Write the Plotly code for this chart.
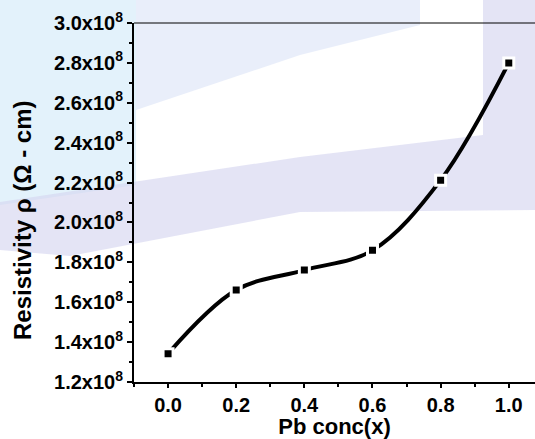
import plotly.graph_objects as go

pb_conc = [0.0, 0.2, 0.4, 0.6, 0.8, 1.0]
resistivity = [1.342e8, 1.661e8, 1.761e8, 1.860e8, 2.212e8, 2.800e8]

y_tick_vals = [1.2e8, 1.4e8, 1.6e8, 1.8e8, 2.0e8, 2.2e8, 2.4e8, 2.6e8, 2.8e8, 3.0e8]
y_tick_text = ["1.2x10<sup>8</sup>", "1.4x10<sup>8</sup>", "1.6x10<sup>8</sup>", "1.8x10<sup>8</sup>",
               "2.0x10<sup>8</sup>", "2.2x10<sup>8</sup>", "2.4x10<sup>8</sup>", "2.6x10<sup>8</sup>",
               "2.8x10<sup>8</sup>", "3.0x10<sup>8</sup>"]
x_tick_vals = [0.0, 0.2, 0.4, 0.6, 0.8, 1.0]
x_tick_text = ["0.0", "0.2", "0.4", "0.6", "0.8", "1.0"]
y_title = "Resistivity ρ (Ω - cm)"
x_title = "Pb conc(x)"

W, H = 535, 439
ML, MR, MT, MB = 134, 0, 23, 57
PW, PH = W - ML - MR, H - MT - MB


def px_path(points):
    """Convert pixel-space polygon (background watermark) to a paper-space SVG path."""
    pts = [((x - ML) / PW, (H - MB - y) / PH) for x, y in points]
    return "M " + " L ".join(f"{a:.4f},{b:.4f}" for a, b in pts) + " Z"


watermark = [
    ([(0, 0), (136, 0), (136, 185), (0, 205)], "rgba(200,230,248,0.5)"),
    ([(136, 0), (420, 0), (420, 25), (300, 55), (136, 110)], "rgba(212,222,245,0.5)"),
    ([(0, 202), (300, 157), (483, 135), (483, 0), (535, 0), (535, 210), (300, 212),
      (70, 256), (0, 250)], "rgba(214,214,240,0.65)"),
]

shapes = [dict(type="path", xref="paper", yref="paper", path=px_path(p), fillcolor=c,
               line=dict(width=0), layer="below") for p, c in watermark]
shapes.append(dict(type="line", xref="paper", yref="paper", x0=0, x1=1, y0=1, y1=1,
                   line=dict(color="black", width=1)))

fig = go.Figure()
fig.add_trace(go.Scatter(
    x=pb_conc, y=resistivity, mode="lines",
    line=dict(shape="spline", smoothing=1.0, color="black", width=4),
    hoverinfo="skip", showlegend=False))
fig.add_trace(go.Scatter(
    x=pb_conc, y=resistivity, mode="markers",
    marker=dict(symbol="square", size=10, color="black", line=dict(color="white", width=3)),
    showlegend=False))

fam = "Liberation Sans, Arial, sans-serif"
tickfont = dict(size=20, family=fam, color="black")
titlefont = dict(size=22, family=fam, color="black")

fig.update_layout(
    width=W, height=H,
    margin=dict(l=ML, r=MR, t=MT, b=MB),
    paper_bgcolor="white", plot_bgcolor="rgba(0,0,0,0)",
    xaxis=dict(range=[-0.1, 1.077], tickvals=x_tick_vals,
               ticktext=[f"<b>{t}</b>" for t in x_tick_text],
               showgrid=False, zeroline=False, showline=True, linecolor="black", linewidth=2,
               ticks="outside", ticklen=4, tickwidth=1.5, tickcolor="black", tickfont=tickfont,
               minor=dict(dtick=0.1, tick0=0, ticks="outside", ticklen=3, tickwidth=1.5, tickcolor="black"),
               title=dict(text=f"<b>{x_title}</b>", font=titlefont, standoff=3), automargin=False),
    yaxis=dict(range=[1.2e8, 3.0e8], tickvals=y_tick_vals,
               ticktext=[f"<b>{t}</b>" for t in y_tick_text],
               showgrid=False, zeroline=False, showline=True, linecolor="black", linewidth=2,
               ticks="outside", ticklen=5, tickwidth=1.5, tickcolor="black", tickfont=tickfont,
               minor=dict(dtick=1e7, tick0=1.2e8, ticks="outside", ticklen=3, tickwidth=1.5, tickcolor="black"),
               automargin=False),
    shapes=shapes,
    annotations=[dict(text=f"<b>{y_title}</b>", textangle=-90, showarrow=False,
                      xref="paper", yref="paper", x=(23 - ML) / PW, y=(H - MB - 220) / PH,
                      xanchor="center", yanchor="middle",
                      font=dict(size=24, family=fam, color="black"))],
)

fig.write_html("out.html")
